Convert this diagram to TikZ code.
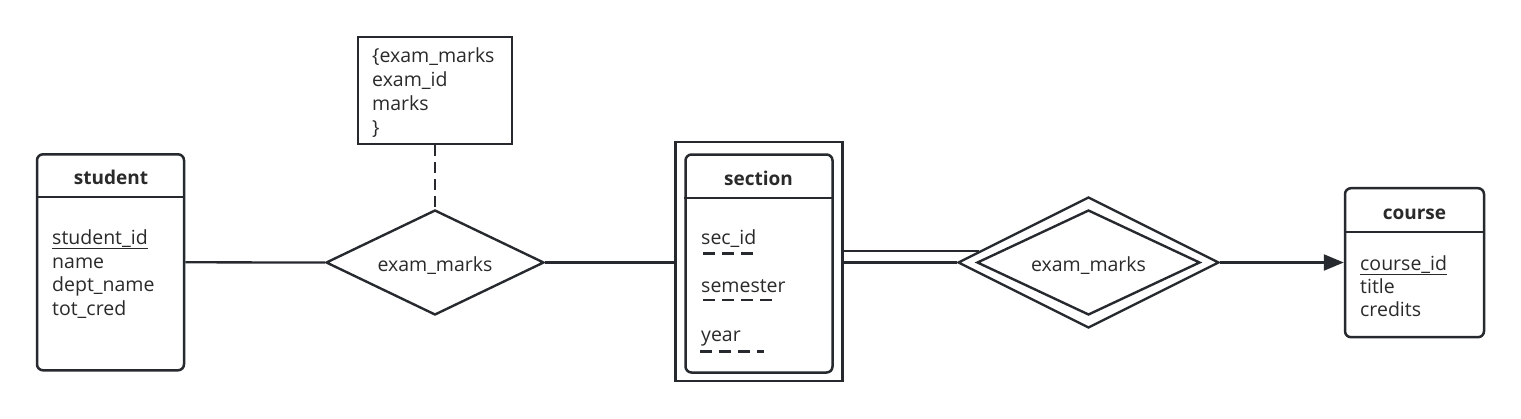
\documentclass[tikz,border=0pt]{standalone}
\usepackage{fontspec}
\setmainfont{Open Sans}
\usetikzlibrary{shapes.geometric,arrows.meta,calc}
\definecolor{ink}{RGB}{38,42,46}
\definecolor{txt}{RGB}{42,42,42}
\begin{document}
\begin{tikzpicture}[x=1pt,y=-1pt,
  entbox/.style={draw=ink, line width=2.5, rounded corners=6, inner sep=0, fill=white},
  plainbox/.style={draw=ink, line width=2.5, inner sep=0},
  relshape/.style={diamond, draw=ink, line width=2.4, inner sep=0, aspect=2},
  conn/.style={draw=ink, line width=2.3},
  title/.style={anchor=base, text=txt, font=\fontsize{19}{22}\selectfont\bfseries, inner sep=0},
  attr/.style={anchor=base west, text=txt, font=\fontsize{19.5}{23}\selectfont, inner sep=0},
  dashu/.style={draw=ink, line width=2.2, dash pattern=on 12 off 7},
]
\useasboundingbox (0,0) rectangle (1521,418);

% student
\node[entbox, minimum width=147, minimum height=216] (student) at (110.5,262.3) {};
\draw[ink, line width=2.3] ([yshift=-44]student.north west) -- ([yshift=-44]student.north east);
\node[title] (studentT) at (111,184.5) {student};
\node[attr] (s1) at (52,244) {\underline{student\_id}};
\node[attr] (s2) at (52,268) {name};
\node[attr] (s3) at (52,291.5) {dept\_name};
\node[attr] (s4) at (52,315) {tot\_cred};

% note
\node[plainbox, minimum width=154, minimum height=107] (note) at (435,90.5) {};
\node[attr] (n1) at (372,62) {\{exam\_marks};
\node[attr] (n2) at (372,86) {exam\_id};
\node[attr] (n3) at (372,110) {marks};
\node[attr] (n4) at (372,134) {\}};

% relation 1
\node[relshape, minimum width=218, minimum height=105] (rel1) at (435,262.5) {};
\node[text=txt, font=\fontsize{19.5}{23}\selectfont, inner sep=0, anchor=base] (rel1T) at (435,271) {exam\_marks};

\draw[conn, dash pattern=on 11 off 6] (note.south) -- (rel1.north);
\draw[conn] (student.east) -- (rel1.west);

% section
\node[plainbox, minimum width=167, minimum height=239] (sec) at (759,261.5) {};
\node[entbox, minimum width=147, minimum height=218] (secin) at (759,263.5) {};
\draw[ink, line width=2.3] ([yshift=-45]secin.north west) -- ([yshift=-45]secin.north east);
\node[title] (secT) at (758.5,185.5) {section};
\node[attr] (a1) at (701,244) {sec\_id};
\node[attr] (a2) at (701,292.5) {semester};
\node[attr] (a3) at (701,341.5) {year};
\coordinate (u1a) at (703,253.5); \coordinate (u1b) at (755,253.5);
\coordinate (u2a) at (703,300); \coordinate (u2b) at (774,300);
\coordinate (u3a) at (700,351.5); \coordinate (u3b) at (764,351.5);
\draw[dashu] (u1a) -- (u1b);
\draw[dashu] (u2a) -- (u2b);
\draw[dashu] (u3a) -- (u3b);

\draw[conn] (rel1.east) -- (sec.west |- rel1.east);

% relation 2 (identifying)
\node[relshape, minimum width=261, minimum height=131] (rel2) at (1088.5,262.5) {};
\node[relshape, minimum width=223, minimum height=105] (rel2in) at (1088.5,262.5) {};
\node[text=txt, font=\fontsize{19.5}{23}\selectfont, inner sep=0, anchor=base] (rel2T) at (1088.5,271) {exam\_marks};

\draw[conn] (sec.east |- rel2.174.3) -- (rel2.174.3);
\draw[conn] (sec.east |- rel2.west) -- (rel2.west);

% course
\node[entbox, minimum width=139, minimum height=149] (course) at (1414.5,262.7) {};
\draw[ink, line width=2.3] ([yshift=-45]course.north west) -- ([yshift=-45]course.north east);
\node[title] (courseT) at (1414.5,219.5) {course};
\node[attr] (c1) at (1360,270) {\underline{course\_id}};
\node[attr] (c2) at (1360,293) {title};
\node[attr] (c3) at (1360,316) {credits};

\draw[conn, -{Triangle[length=20, width=16]}] (rel2.east) -- (course.west |- rel2.east);
\end{tikzpicture}
\end{document}
